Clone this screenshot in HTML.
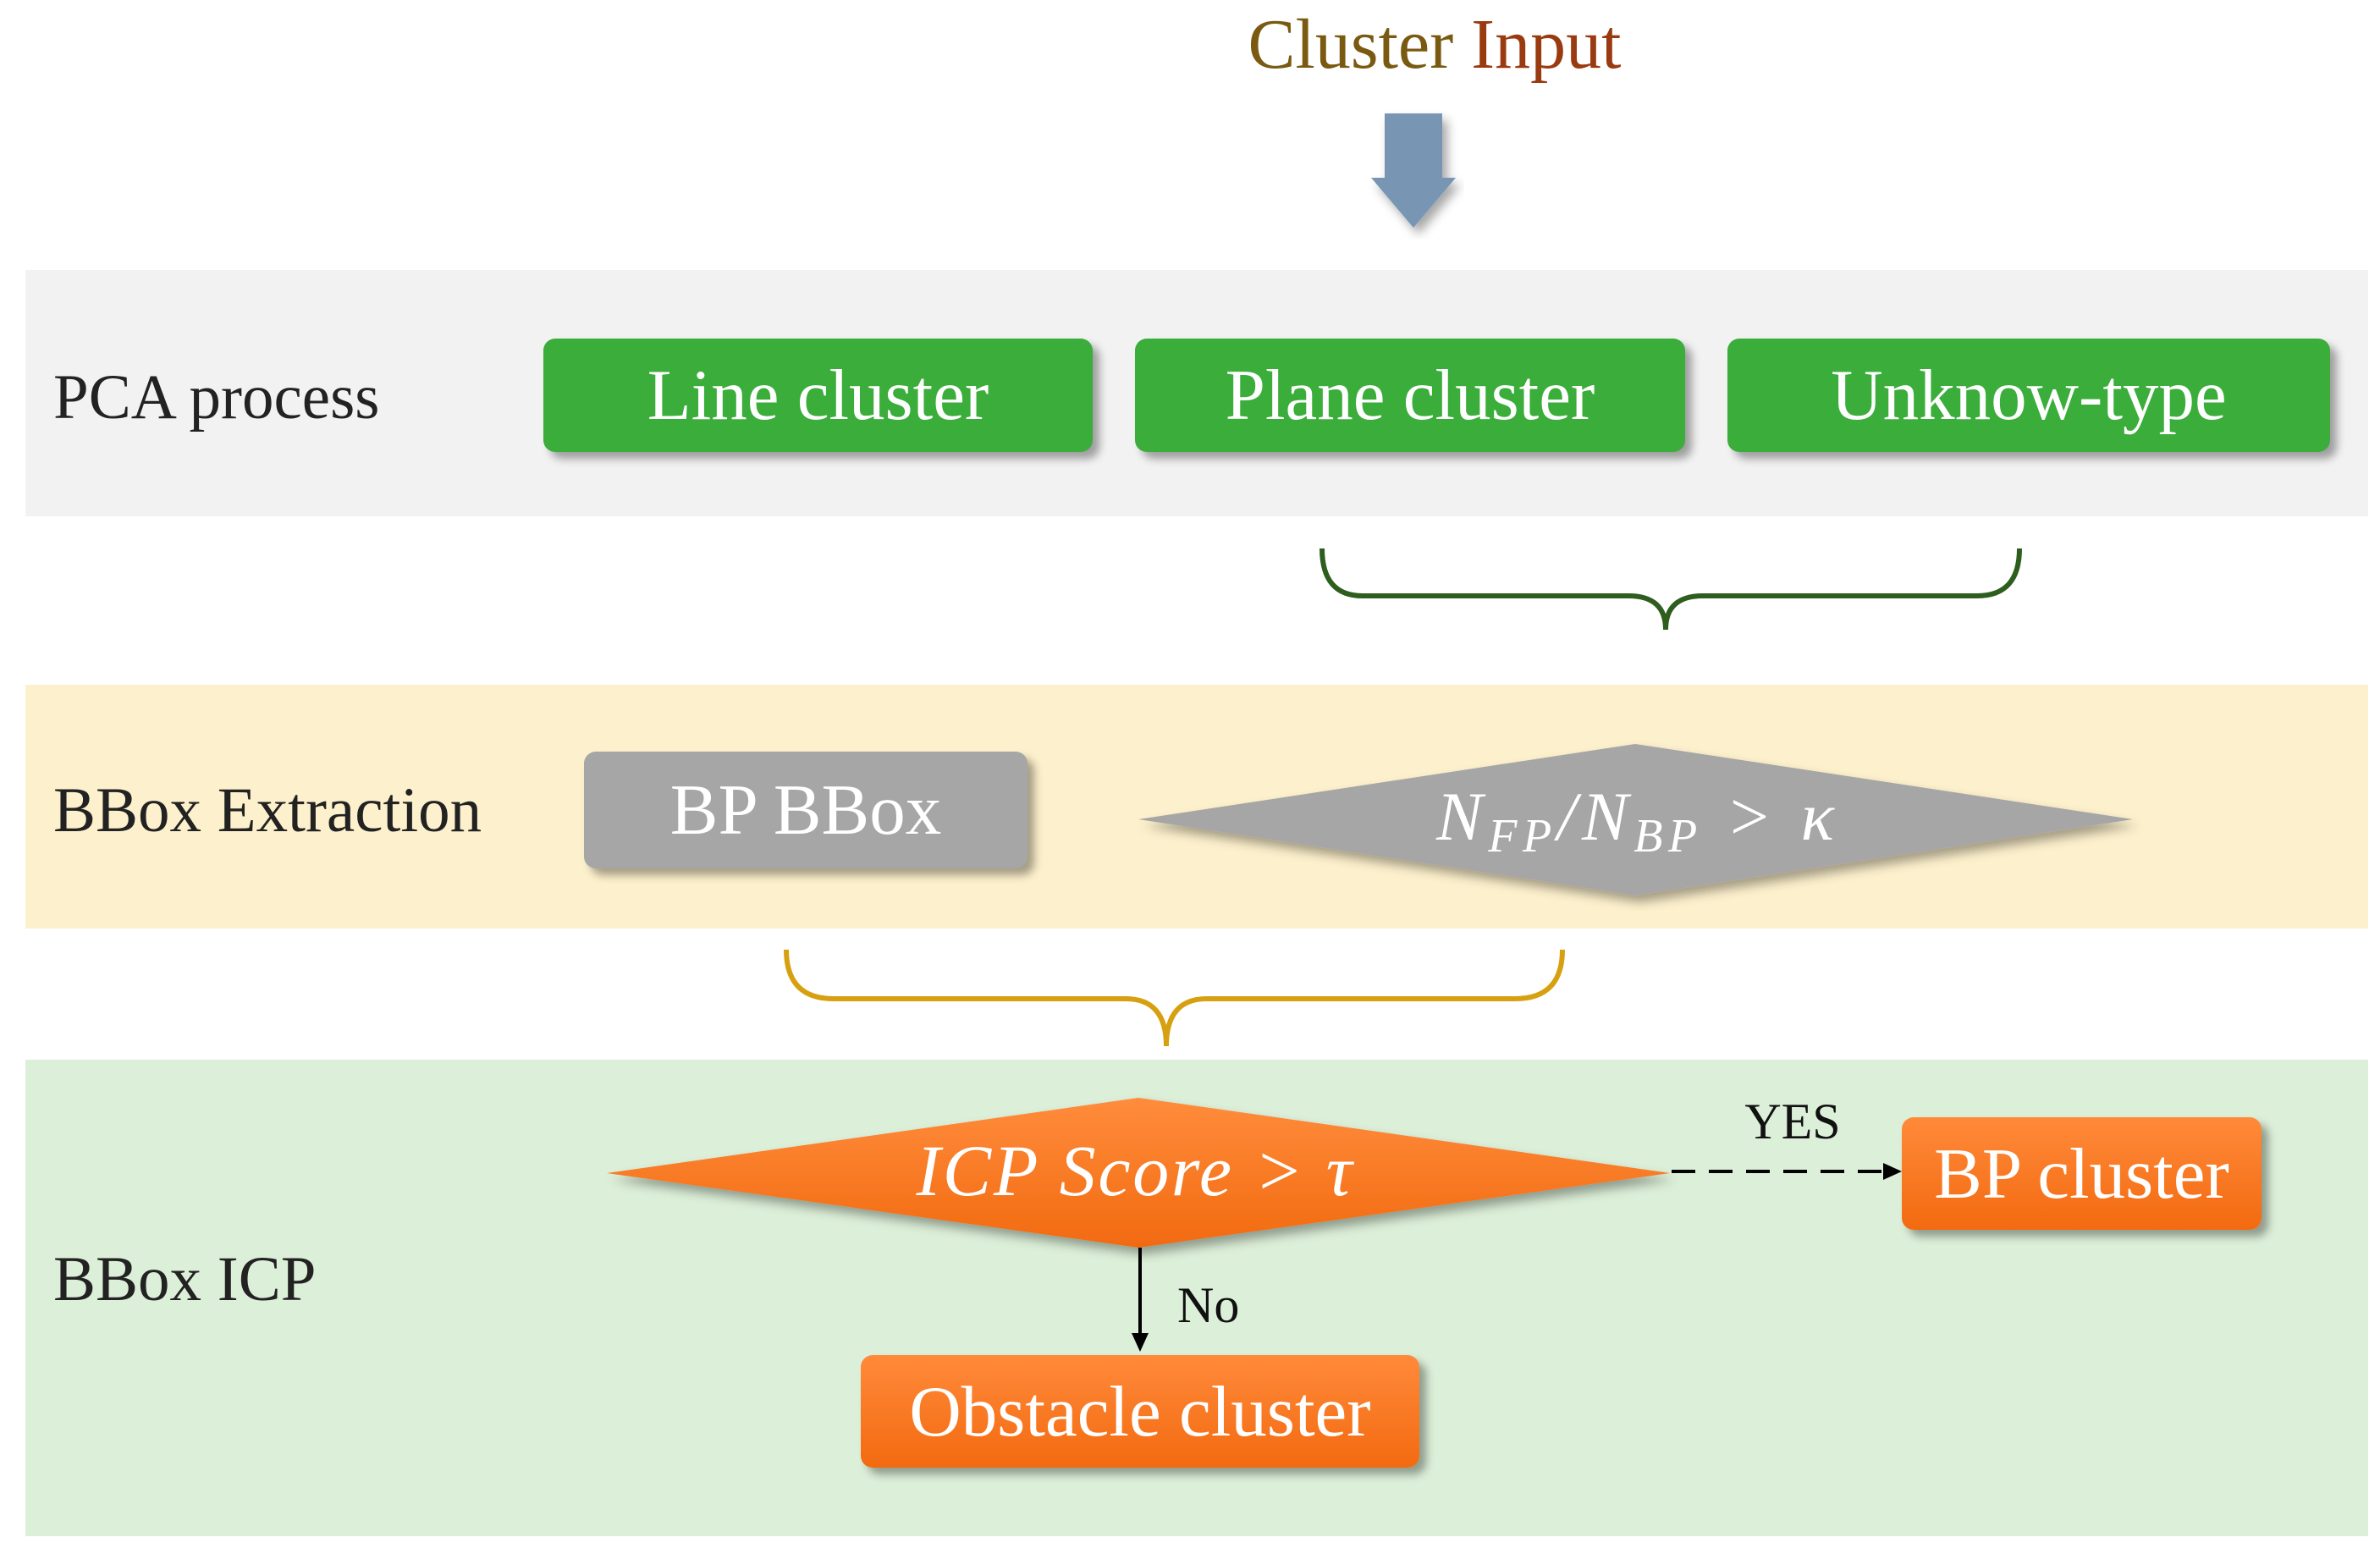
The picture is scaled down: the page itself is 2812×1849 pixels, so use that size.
<!DOCTYPE html>
<html><head><meta charset="utf-8"><style>
body{margin:0;width:2812px;height:1849px;background:#fff;position:relative;overflow:hidden;font-family:"Liberation Serif",serif}
.a{position:absolute}
.band{position:absolute;left:30px;width:2768px}
.lab{position:absolute;left:63px;font-size:75px;color:#222;transform:translateY(-50%);white-space:nowrap}
.box{position:absolute;display:flex;align-items:center;justify-content:center;color:#fff;font-size:85px;border-radius:14px;box-shadow:8px 8px 10px rgba(0,0,0,0.35)}
.g{background:#3bad3b}
.o{background:linear-gradient(#ff8a3a,#f36a10)}
</style></head><body>
<div class="a" style="left:0;width:3390px;top:4px;font-size:84px;text-align:center;color:#8a5a10"><span style="color:#7a5a10">Cluster</span> <span style="color:#9a3a10">Input</span></div>
<div class="band" style="top:319px;height:291px;background:#f2f2f2"></div>
<div class="band" style="top:809px;height:288px;background:#fdf0cc"></div>
<div class="band" style="top:1252px;height:563px;background:#dcefd8"></div>
<svg class="a" style="left:0;top:0" width="2812" height="1849">
<defs><filter id="s"><feDropShadow dx="6" dy="8" stdDeviation="6" flood-opacity="0.35"/></filter>
<linearGradient id="og" x1="0" y1="0" x2="0" y2="1"><stop offset="0" stop-color="#ff8c3c"/><stop offset="1" stop-color="#f26a10"/></linearGradient></defs>
<path d="M1636 134 H1704 V210 H1720 L1670 269 L1620 210 H1636 Z" fill="#7896b4" filter="url(#s)"/>
<path d="M1562 648 Q1562 704 1610 704 H1924 Q1968 704 1968 744 Q1968 704 2012 704 H2336 Q2386 704 2386 648" fill="none" stroke="#2e5e1e" stroke-width="6"/>
<path d="M929 1122 Q929 1180 985 1180 H1330 Q1378 1180 1378 1236 Q1378 1180 1426 1180 H1790 Q1846 1180 1846 1122" fill="none" stroke="#d6a010" stroke-width="6"/>
<polygon points="1345,968 1932,879 2520,968 1932,1058" fill="#a6a6a6" filter="url(#s)"/>
<polygon points="717,1386 1345,1297 1973,1386 1345,1474" fill="url(#og)" filter="url(#s)"/>
<line x1="1975" y1="1384" x2="2228" y2="1384" stroke="#000" stroke-width="4" stroke-dasharray="28,16"/>
<polygon points="2247,1384 2225,1374 2225,1394" fill="#000"/>
<line x1="1347" y1="1474" x2="1347" y2="1578" stroke="#000" stroke-width="4"/>
<polygon points="1347,1597 1337,1575 1357,1575" fill="#000"/>
<text x="1932" y="992" font-size="82" fill="#fff" text-anchor="middle" font-style="italic" font-family="Liberation Serif" textLength="470">N<tspan font-size="56" dy="14">FP</tspan><tspan dy="-14">/N</tspan><tspan font-size="56" dy="14">BP</tspan><tspan dy="-14"> &gt; κ</tspan></text>
<text x="1340" y="1412" font-size="86" fill="#fff" text-anchor="middle" font-style="italic" font-family="Liberation Serif" textLength="515">ICP Score &gt; τ</text>
<text x="2118" y="1345" font-size="60" fill="#111" text-anchor="middle">YES</text>
<text x="1391" y="1562" font-size="60" fill="#111">No</text>
</svg>
<div class="lab" style="top:470px">PCA process</div>
<div class="lab" style="top:958px">BBox Extraction</div>
<div class="lab" style="top:1512px">BBox ICP</div>
<div class="box g" style="left:642px;top:400px;width:649px;height:134px">Line cluster</div>
<div class="box g" style="left:1341px;top:400px;width:650px;height:134px">Plane cluster</div>
<div class="box g" style="left:2041px;top:400px;width:712px;height:134px">Unknow-type</div>
<div class="box" style="left:690px;top:888px;width:524px;height:138px;background:#a6a6a6">BP BBox</div>
<div class="box o" style="left:2247px;top:1320px;width:425px;height:133px">BP cluster</div>
<div class="box o" style="left:1017px;top:1601px;width:660px;height:133px">Obstacle cluster</div>
</body></html>
